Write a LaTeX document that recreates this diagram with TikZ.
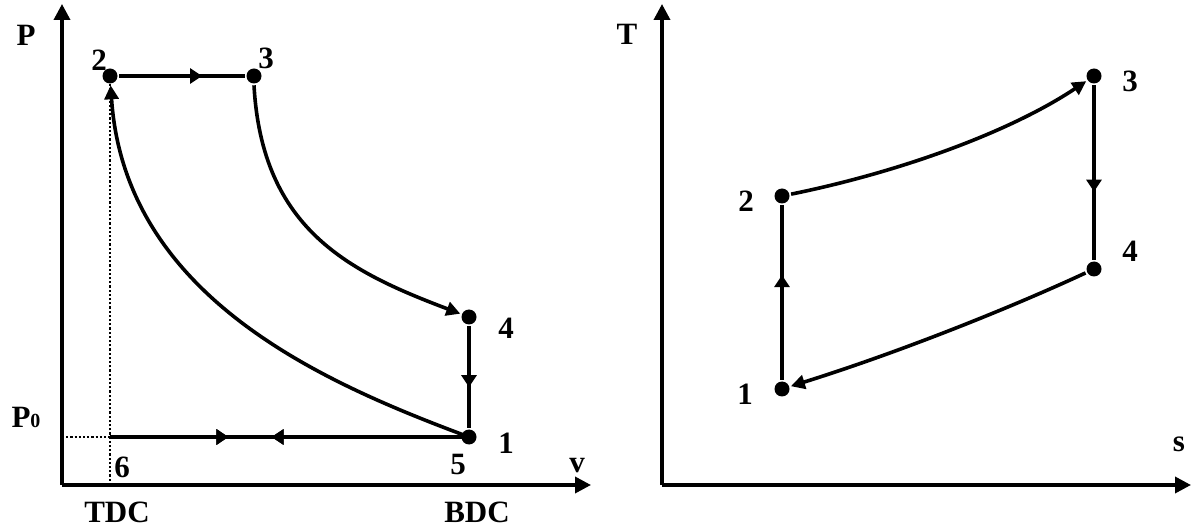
\documentclass[tikz,border=0pt]{standalone}
\usepackage{fontspec}
\setmainfont{Liberation Serif}
\usetikzlibrary{arrows.meta,decorations.markings}
\begin{document}
\begin{tikzpicture}[x=1pt,y=-1pt,line width=3.6pt,
 dot/.style={circle,fill,inner sep=0pt,minimum size=15pt},
 lbl/.style={font=\fontsize{31}{34}\selectfont\bfseries,inner sep=0pt},
 axis/.style={-{Triangle[length=16pt,width=16pt]},line width=3.6pt},
 tipend/.style={-{Triangle[length=14pt,width=14pt]}},
 dotline/.style={dotted,line width=2.2pt},
 midarrow/.style={postaction={decorate},decoration={markings,mark=at position #1 with {\arrow{Triangle[length=12pt,width=15pt]}}}},
 midback/.style={postaction={decorate},decoration={markings,mark=at position #1 with {\arrowreversed{Triangle[length=12pt,width=15pt]}}}},
]
\useasboundingbox (0,0) rectangle (1195,529);

% ---------- left: P-v diagram ----------
\coordinate (O1) at (62,485);
\coordinate (Ptop) at (62,4);
\coordinate (Vend) at (591,485);
\draw[axis] (O1) -- (Ptop);
\draw[axis] (O1) -- (Vend);

\node[dot] (p2) at (110,76) {};
\node[dot] (p3) at (254,76) {};
\node[dot] (p4) at (469,317) {};
\node[dot] (p1) at (469,437) {};
\coordinate (p6) at (110,437);
\coordinate (p6b) at (110,485);
\coordinate (p0a) at (62,437);

\draw[dotline] (p0a) -- (p6);
\draw[dotline] (p6b) -- (p2.center);

\draw[midarrow=0.66] (p2) -- (p3);
\draw[tipend] (p3.south) .. controls (262,230) and (350,272) .. (p4);
\draw[midarrow=0.6] (p4) -- (p1);
\draw[tipend] (p1.center) .. controls (330,385) and (125,300) .. (p2);
\draw[midarrow=0.33,midback=0.45] (p6) -- (p1.center);

\node[lbl] (lP) at (26,35) {P};
\node[lbl] (lP0) at (26,417) {P{\fontsize{20}{20}\selectfont\bfseries 0}};
\node[lbl] (l2) at (99,60) {2};
\node[lbl] (l3) at (266,58) {3};
\node[lbl] (l4) at (506,328) {4};
\node[lbl] (l1) at (506,443) {1};
\node[lbl] (l5) at (458,465) {5};
\node[lbl] (l6) at (122,467) {6};
\node[lbl] (lv) at (577,466) {v};
\node[lbl] (lTDC) at (117,512) {TDC};
\node[lbl] (lBDC) at (477,512) {BDC};

% ---------- right: T-s diagram ----------
\coordinate (O2) at (662,485);
\coordinate (Ttop) at (662,4);
\coordinate (Send) at (1191,485);
\draw[axis] (O2) -- (Ttop);
\draw[axis] (O2) -- (Send);

\node[dot] (q1) at (782,389) {};
\node[dot] (q2) at (782,196) {};
\node[dot] (q3) at (1094,76) {};
\node[dot] (q4) at (1094,269) {};

\draw[midarrow=0.6] (q1) -- (q2);
\draw[tipend] (q2) .. controls (900,172) and (1010,132) .. (q3);
\draw[midarrow=0.61] (q3) -- (q4);
\draw[tipend] (q4) .. controls (1010,308) and (900,352) .. (q1);

\node[lbl] (lT) at (627,34) {T};
\node[lbl] (ls) at (1179,444) {s};
\node[lbl] (m1) at (745,394) {1};
\node[lbl] (m2) at (746,201) {2};
\node[lbl] (m3) at (1130,81) {3};
\node[lbl] (m4) at (1130,251) {4};
\end{tikzpicture}
\end{document}
